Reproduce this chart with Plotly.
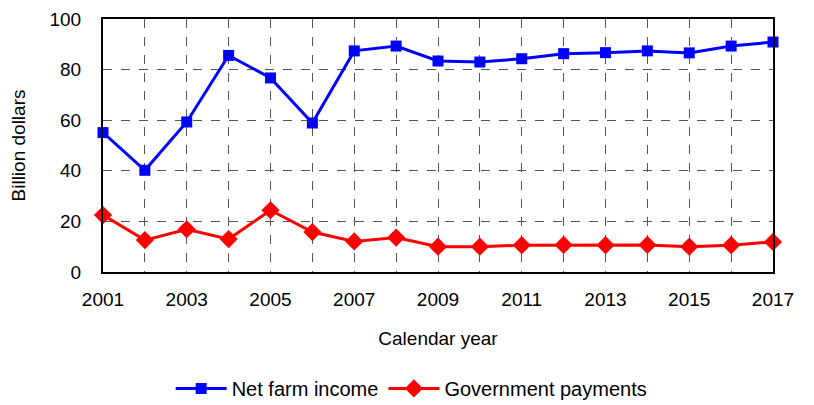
import plotly.graph_objects as go

years = list(range(2001, 2018))
net_farm_income = [55.1, 40.2, 59.3, 85.6, 76.7, 58.9, 87.4, 89.3, 83.4, 83.0, 84.3, 86.3, 86.7, 87.4, 86.6, 89.3, 90.9]
government_payments = [22.5, 12.6, 16.9, 13.0, 24.4, 15.8, 12.1, 13.6, 10.0, 10.0, 10.6, 10.7, 10.6, 10.7, 10.0, 10.6, 11.9]
x_tick_vals = list(range(2001, 2018, 2))
y_tick_vals = [0, 20, 40, 60, 80, 100]

fig = go.Figure()
fig.add_trace(go.Scatter(
    x=years, y=net_farm_income, name="Net farm income", mode="lines+markers",
    line=dict(color="#0000FF", width=3),
    marker=dict(symbol="square", size=11, color="#0000FF"),
    cliponaxis=False,
))
fig.add_trace(go.Scatter(
    x=years, y=government_payments, name="Government payments", mode="lines+markers",
    line=dict(color="#FF0000", width=3),
    marker=dict(symbol="diamond", size=14, color="#FF0000"),
    cliponaxis=False,
))

font = "Liberation Sans, Arial, sans-serif"
fs = 19
# page has an 8px body margin, so the figure is 806x397 to fill the 814x405 window
fig.update_layout(
    width=806, height=397,
    margin=dict(l=95, r=41, t=11, b=133, autoexpand=False),
    paper_bgcolor="white", plot_bgcolor="white",
    font=dict(family=font, size=fs, color="black"),
    showlegend=True,
    legend=dict(orientation="h", x=0.101, xanchor="left", y=-0.46, yanchor="middle",
                font=dict(size=20), itemwidth=51, tracegroupgap=0),
)
fig.update_xaxes(
    range=[2001, 2017], tickvals=x_tick_vals, ticktext=[str(v) for v in x_tick_vals],
    showgrid=True, gridcolor="#555555", griddash="dash", gridwidth=1,
    showline=True, linecolor="black", linewidth=2, mirror=True,
    ticks="", zeroline=False, ticklabelstandoff=9, automargin=False,
    title=dict(text="Calendar year", font=dict(size=fs), standoff=23),
    tickfont=dict(size=fs),
    minor=dict(tickvals=years, showgrid=True, gridcolor="#555555", griddash="dash", gridwidth=1),
)
fig.update_yaxes(
    range=[0, 100], tickvals=y_tick_vals,
    showgrid=True, gridcolor="#555555", griddash="dash", gridwidth=1,
    showline=True, linecolor="black", linewidth=2, mirror=True,
    ticks="", zeroline=False, ticklabelstandoff=16, automargin=False,
    title=dict(text="Billion dollars", font=dict(size=fs), standoff=26),
    tickfont=dict(size=fs),
)

fig.write_html("out.html")
